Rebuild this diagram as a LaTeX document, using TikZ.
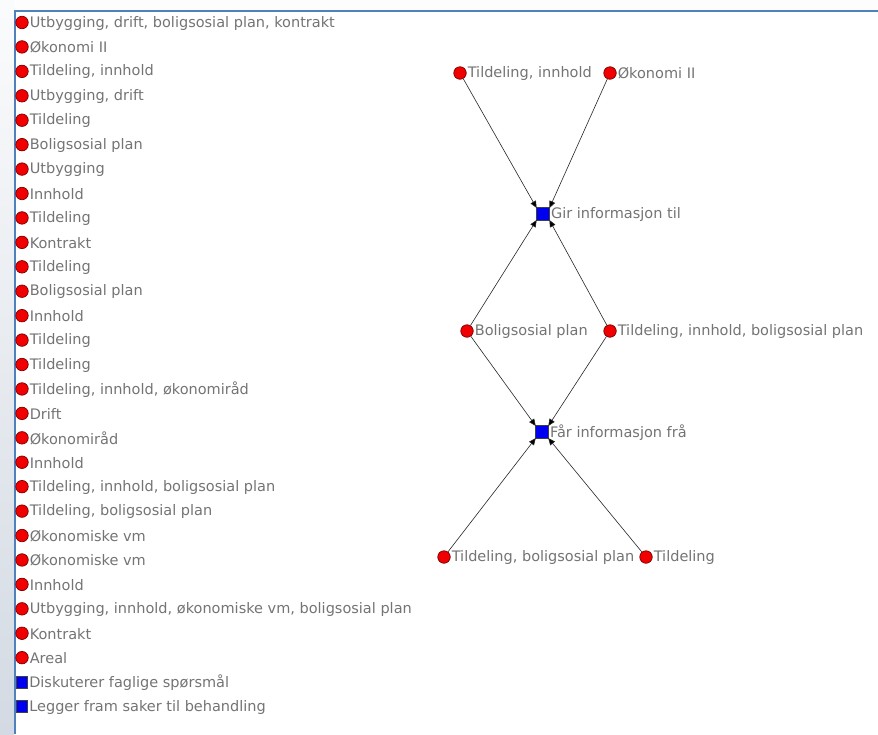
\documentclass[tikz,border=0pt]{standalone}
\usepackage{fontspec}
\setmainfont{DejaVu Sans}
\usetikzlibrary{arrows.meta}
\definecolor{frameblue}{HTML}{4F81BD}
\definecolor{txtgray}{HTML}{747474}
\definecolor{vred}{HTML}{F00000}
\definecolor{vredline}{HTML}{7A0000}
\definecolor{vblue}{HTML}{0000F0}
\definecolor{sidebg}{HTML}{D3DAE3}
\tikzset{
  actor/.style={circle,fill=vred,draw=vredline,line width=0.7pt,minimum size=12.5pt,inner sep=0pt},
  event/.style={rectangle,fill=vblue,draw=black!75,line width=0.7pt,minimum size=13pt,inner sep=0pt},
  lbl/.style={text=txtgray,font=\fontsize{14.5}{15}\selectfont,inner sep=0.5pt,anchor=west,yshift=-0.5pt},
  tie/.style={draw=black!85,line width=0.6pt,-{Triangle[length=7pt,width=6pt,fill=black]},shorten >=-1pt},
}
\begin{document}
\begin{tikzpicture}[x=1pt,y=-1pt]
  \useasboundingbox (0,0) rectangle (878,734);
  % window background and frame
  \shade[top color=white!90!sidebg,bottom color=sidebg] (0,0) rectangle (14,734);
  \fill[white!96!sidebg] (14,0) rectangle (878,10);
  \fill[white] (15,11) rectangle (878,734);
  \draw[frameblue,line width=2pt] (14.5,734) -- (14.5,10.5) -- (878,10.5);

  % legend list of attributes
  \foreach [count=\i from 0] \t in {
    {Utbygging, drift, boligsosial plan, kontrakt},
    {Økonomi II},
    {Tildeling, innhold},
    {Utbygging, drift},
    {Tildeling},
    {Boligsosial plan},
    {Utbygging},
    {Innhold},
    {Tildeling},
    {Kontrakt},
    {Tildeling},
    {Boligsosial plan},
    {Innhold},
    {Tildeling},
    {Tildeling},
    {Tildeling, innhold, økonomiråd},
    {Drift},
    {Økonomiråd},
    {Innhold},
    {Tildeling, innhold, boligsosial plan},
    {Tildeling, boligsosial plan},
    {Økonomiske vm},
    {Økonomiske vm},
    {Innhold},
    {Utbygging, innhold, økonomiske vm, boligsosial plan},
    {Kontrakt},
    {Areal}} {
    \node[actor] (l\i) at (22,22.5+24.43*\i) {};
    \node[lbl] at ([xshift=0.5pt]l\i.east) {\t};
  }
  \node[event,minimum size=11.5pt] (l27) at (22,22.5+24.43*27) {};
  \node[lbl] at ([xshift=0.5pt]l27.east) {Diskuterer faglige spørsmål};
  \node[event,minimum size=11.5pt] (l28) at (22,22.5+24.43*28) {};
  \node[lbl] at ([xshift=0.5pt]l28.east) {Legger fram saker til behandling};

  % network
  \node[actor] (ti) at (460,73) {};
  \node[lbl] at ([xshift=0.5pt]ti.east) {Tildeling, innhold};
  \node[actor] (ok) at (610,73) {};
  \node[lbl] at ([xshift=0.5pt]ok.east) {Økonomi II};
  \node[event] (gir) at (543,214) {};
  \node[lbl] at ([xshift=0.5pt]gir.east) {Gir informasjon til};
  \node[actor] (bp) at (467,331) {};
  \node[lbl] at ([xshift=0.5pt]bp.east) {Boligsosial plan};
  \node[actor] (tib) at (610,331) {};
  \node[lbl] at ([xshift=0.5pt]tib.east) {Tildeling, innhold, boligsosial plan};
  \node[event] (far) at (542,432) {};
  \node[lbl] at ([xshift=0.5pt]far.east) {Får informasjon frå};
  \node[actor] (tb) at (444,557) {};
  \node[lbl] at ([xshift=0.5pt]tb.east) {Tildeling, boligsosial plan};
  \node[actor] (td) at (646,557) {};
  \node[lbl] at ([xshift=0.5pt]td.east) {Tildeling};

  \draw[tie] (ti) -- (gir.north west);
  \draw[tie] (ok) -- (gir.north east);
  \draw[tie] (bp) -- (gir.south west);
  \draw[tie] (tib) -- (gir.south east);
  \draw[tie] (bp) -- (far.north west);
  \draw[tie] (tib) -- (far.north east);
  \draw[tie] (tb) -- (far.south west);
  \draw[tie] (td) -- (far.south east);
\end{tikzpicture}
\end{document}
